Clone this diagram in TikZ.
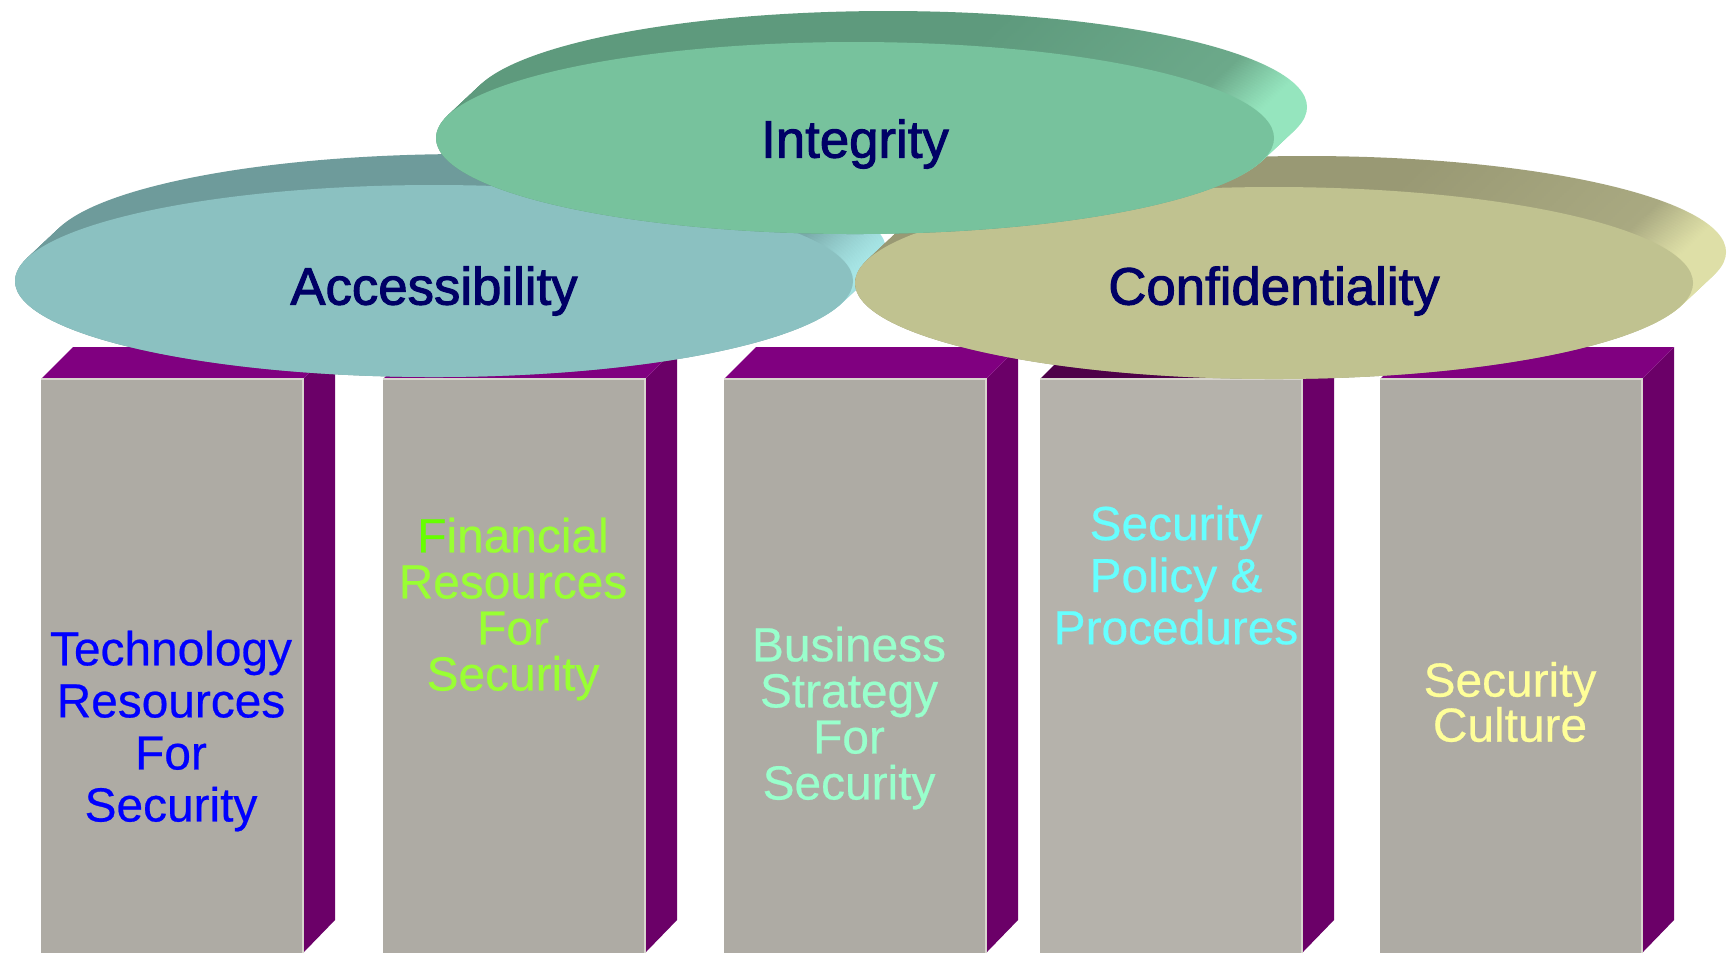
\documentclass[tikz,border=0pt]{standalone}
\usepackage{fontspec}
\setmainfont{Liberation Sans}
\newfontfamily\disclabelfont[FakeBold=1.8]{Liberation Sans}
\newfontfamily\pillarfont[FakeBold=0.5]{Liberation Sans}
\usepackage{tikz}
\usetikzlibrary{positioning}

% pillar colours
\definecolor{pillarfront}{HTML}{AEABA4}
\definecolor{pillarfrontlt}{HTML}{B5B2AB}
\definecolor{pillaredge}{HTML}{D8D5CE}
\definecolor{pillarside}{HTML}{6B0068}
\definecolor{pillartop}{HTML}{800080}
\definecolor{pillartopdk}{HTML}{4E0049}
% disc colours
\definecolor{accface}{HTML}{8BC1C1}
\definecolor{accrimdk}{HTML}{6E9B9B}
\definecolor{accrimmid}{HTML}{7AAAAA}
\definecolor{accrimlt}{HTML}{A9E8E8}
\definecolor{intface}{HTML}{77C29D}
\definecolor{intrimdk}{HTML}{5E9A7D}
\definecolor{intrimmid}{HTML}{6CA98A}
\definecolor{intrimlt}{HTML}{95E5BE}
\definecolor{confface}{HTML}{C0C290}
\definecolor{confrimdk}{HTML}{999974}
\definecolor{confrimmid}{HTML}{A9A981}
\definecolor{confrimlt}{HTML}{DEDFA7}
% text colours
\definecolor{navytext}{HTML}{000066}
\definecolor{techblue}{HTML}{0000FF}
\definecolor{fingreen}{HTML}{99FF33}
\definecolor{fingreenF}{HTML}{66FF00}
\definecolor{bizgreen}{HTML}{99FFCC}
\definecolor{policycyan}{HTML}{66FFFF}
\definecolor{cultureyellow}{HTML}{FFFF99}

% rim shadings, dark on the left and lit only at the right end
\pgfdeclarehorizontalshading{accrim}{100bp}{color(0bp)=(accrimdk); color(25bp)=(accrimdk);
    color(57bp)=(accrimdk); color(72bp)=(accrimmid); color(75bp)=(accrimlt); color(100bp)=(accrimlt)}
\pgfdeclarehorizontalshading{intrim}{100bp}{color(0bp)=(intrimdk); color(25bp)=(intrimdk);
    color(57bp)=(intrimdk); color(71bp)=(intrimmid); color(74bp)=(intrimlt); color(100bp)=(intrimlt)}
\pgfdeclarehorizontalshading{confrim}{100bp}{color(0bp)=(confrimdk); color(25bp)=(confrimdk);
    color(57bp)=(confrimdk); color(71bp)=(confrimmid); color(74bp)=(confrimlt); color(100bp)=(confrimlt)}

\begin{document}
\begin{tikzpicture}[x=0.01cm, y=-0.01cm,
    pillartext/.style={align=center, inner sep=0pt},
    disclabel/.style={font=\disclabelfont\fontsize{15}{18}\selectfont, text=navytext, inner sep=0pt}]
    \useasboundingbox (0,0) rectangle (1731,953);
    \fill[white] (0,0) rectangle (1731,953);

    % Pillars: front, side and top faces
    \foreach \px/\front/\roof in {41/pillarfront/pillartop, 383/pillarfront/pillartop,
                                   724/pillarfront/pillartop, 1040/pillarfrontlt/pillartopdk,
                                   1380/pillarfront/pillartop} {
        \fill[\front] (\px,379) rectangle ++(262,574);
        \fill[pillarside] (\px+262,379) -- ++(32,-32) -- ++(0,573) -- (\px+262,953) -- cycle;
        \fill[\roof] (\px,379) -- ++(32,-32) -- ++(262,0) -- ++(-32,32) -- cycle;
        \draw[pillaredge, line width=0.6pt] (\px,379) -- ++(262,0) -- ++(0,574);
    }

    % Pillar texts
    \node[pillartext, text=techblue, font=\pillarfont\fontsize{13.6}{14.8}\selectfont] (tech) at (171,731)
        {Technology\\Resources\\For\\Security};
    \node[pillartext, text=fingreen, font=\pillarfont\fontsize{13.6}{13.1}\selectfont] (fin) at (513,609)
        {{\color{fingreenF}F}inancial\\Resources\\For\\Security};
    \node[pillartext, text=bizgreen, font=\pillarfont\fontsize{13.6}{13.1}\selectfont] (biz) at (849,718)
        {Business\\Strategy\\For\\Security};
    \node[pillartext, text=policycyan, font=\pillarfont\fontsize{13.6}{14.8}\selectfont] (policy) at (1176,575)
        {Security\\Policy \&\\Procedures};
    \node[pillartext, text=cultureyellow, font=\pillarfont\fontsize{13.6}{12.8}\selectfont] (culture) at (1510,702)
        {Security\\Culture};

    % Discs: rim swept back and up, then the face on top
    \foreach \cx/\cy/\face/\rim/\dy/\lbl/\txt in {434/281/accface/accrim/10/acc/Accessibility,
                                                1274/283/confface/confrim/8/conf/Confidentiality,
                                                855/138/intface/intrim/6/integ/Integrity} {
        \foreach \k in {0,...,16} {
            \shade[shading=\rim]
                ({\cx+33-33*\k/16},{\cy-31+31*\k/16}) ellipse [x radius=419, y radius=96];
        }
        \fill[\face] (\cx,\cy) ellipse [x radius=419, y radius=96];
        \node[disclabel] (\lbl) at (\cx,\cy+\dy) {\txt};
    }
\end{tikzpicture}
\end{document}
